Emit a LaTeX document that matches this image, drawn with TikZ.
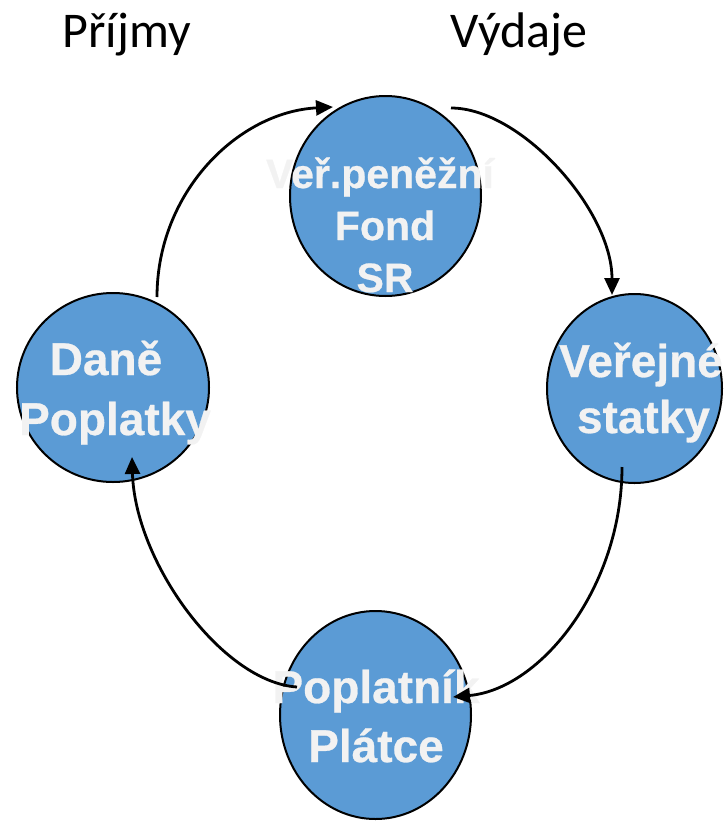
\documentclass[tikz,border=0pt]{standalone}
\usepackage{fontspec}
\setmainfont{Carlito}
\newfontfamily\cfont[BoldFeatures={FakeBold=0.6}]{Liberation Sans}
\usetikzlibrary{arrows.meta,shapes.geometric}
\definecolor{cfill}{HTML}{5B9BD5}
\definecolor{ctext}{HTML}{F2F2F2}
\begin{document}
\begin{tikzpicture}[x=1pt,y=-1pt,
  bubble/.style={ellipse,draw=black,line width=2pt,fill=cfill,inner sep=0pt},
  lbl/.style={text=ctext,font=\cfont\bfseries\fontsize{46}{46}\selectfont,anchor=base,inner sep=0pt},
  lblsmall/.style={lbl,font=\cfont\bfseries\fontsize{41}{41}\selectfont},
  ttl/.style={font=\fontsize{50}{50}\selectfont,anchor=base,inner sep=0pt},
  flow/.style={line width=2.8pt,-{Triangle[length=17pt,width=15pt]}}]
\useasboundingbox (0,0) rectangle (725,822);

\node[ttl] (prijmy) at (126.5,47) {Příjmy};
\node[ttl] (vydaje) at (519,47) {Výdaje};

\node[bubble,minimum width=191pt,minimum height=200pt] (fond) at (385.5,196) {};
\node[bubble,minimum width=192pt,minimum height=189pt] (dane) at (113,387.5) {};
\node[bubble,minimum width=175pt,minimum height=189pt] (statky) at (634.5,388.5) {};
\node[bubble,minimum width=191pt,minimum height=208pt] (platce) at (375.5,715) {};

\node[lblsmall] (f1) at (380,188) {Veř.peněžní};
\node[lblsmall] (f2) at (385,240) {Fond};
\node[lblsmall] (f3) at (385,292) {SR};
\node[lbl] (d1) at (106,375) {Daně};
\node[lbl] (d2) at (115,435) {Poplatky};
\node[lbl] (s1) at (641,377) {Veřejné};
\node[lbl] (s2) at (643.5,433) {statky};
\node[lbl] (p1) at (376,703) {Poplatník};
\node[lbl] (p2) at (376,762) {Plátce};

\draw[flow] ([shift={(44,-90.5)}]dane.center) .. controls +(0,-105) and +(-95,5) .. ([shift={(-52.5,-89)}]fond.center);
\draw[flow] ([shift={(65.5,-88)}]fond.center) .. controls +(70,0) and +(0,-85) .. ([shift={(-22.5,-93.5)}]statky.center);
\draw[flow] ([shift={(-12.5,78.5)}]statky.center) .. controls +(0,120) and +(88,-8) .. ([shift={(77.5,-18)}]platce.center);
\draw[flow] ([shift={(-78.5,-28)}]platce.center) .. controls +(-75,-5) and +(3,105) .. ([shift={(19,69.5)}]dane.center);
\end{tikzpicture}
\end{document}
